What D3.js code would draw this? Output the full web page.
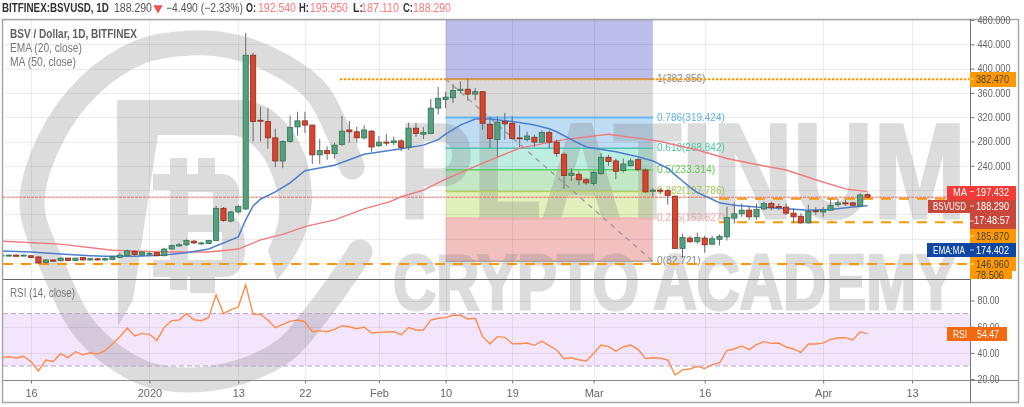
<!DOCTYPE html>
<html><head><meta charset="utf-8">
<script src="https://d3js.org/d3.v7.min.js"></script>
<style>html,body{margin:0;padding:0;background:#fff;overflow:hidden}svg{display:block}text{font-family:"Liberation Sans",Arial,sans-serif}</style>
</head><body><svg id="c" width="1024" height="407"></svg>
<script>
const firstDay = "2019-12-12";
const opens = [92,92,93,92,
92,90,81,85,84,88,84,89,85,87,
85,86,89,92,99,93,95,97,92,103,
108,110,116,112,112,117,170,149,164,169,
422,315,313,286,248,280,304,314,307,258,
265,260,275,299,296,286,297,273,279,278,
281,271,302,292,293,335,349,352,364,366,
358,362,308,283,313,310,286,283,287,279,
295,279,259,224,226,217,211,227,254,248,
232,240,250,233,198,200,199,190,104,121,
115,121,111,119,123,154,161,167,156,169,
178,173,172,162,157,146,166,164,167,176,
179,179,174,192.54];
const highs = [94,94,94,94,
93,91,86,86,89,89,89,90,88,88,
89,91,97,102,101,99,98,98,105,110,
113,119,118,115,118,174,172,166,176,459,
426,337,335,301,282,323,329,329,308,284,
272,278,322,314,304,307,299,289,292,288,
284,311,311,304,350,370,362,375,379,382.5,
368,363,321,321,327,322,307,296,291,298,
298,283,262,236,231,219,231,261,258,252,
252,252,253,236,203,203,201,191,128,125,
130,125,125,127,173,180,178,174,178,181,
181,178,178,170,162,176,172,172,186,186,
184,181,195,195.95];
const lows = [91,91,91,91,
88,79,79,82,83,83,83,84,84,84,
83,85,88,91,92,92,93,91,91,102,
107,108,111,110,111,116,148,147,161,167,
280,280,268,238,236,278,290,294,243,243,
250,252,273,278,278,283,263,271,273,274,
264,266,288,284,292,324,335,343,360,347,
348,299,269,255,283,283,271,280,271,277,
269,255,202,215,208,209,208,225,240,218,
229,239,231,196,189,194,176,103,88,113,
112,97,109,109,117,145,156,151,151,167,
167,167,159,146,145,145,159,156,166,173,
174,173,173,187.11];
const closes = [93,93,91,93,
89,80,85,83,88,84,88,85,87,85,
87,90,93,100,94,98,96,92,103,109,
110,117,113,113,117,170,150,164,173,422,
313,314,286,248,280,303,314,307,258,265,
260,274,297,296,286,299,271,279,278,281,
270,302,293,295,335,351,353,364,366,358,
362,310,285,312,309,285,285,289,279,295,
279,260,224,228,217,212,229,254,247,231,
243,248,234,197,200,198,191,104,122,115,
122,110,120,124,155,161,167,156,168,178,
171,172,162,156,146,165,165,167,175,179,
178,175,192,188.29];
const rsiValues = [36.4,37.1,36.1,37.4,
33.3,26.2,34.6,33.5,39.4,36.4,40.9,38.6,40.1,39.1,
41.7,46.8,52.4,59,52.9,54.9,54.2,49.6,59.5,64.6,
65.1,69.9,65.3,64.6,67.1,84.4,69.9,73,75,92,
69.4,69.4,65.1,59.2,61.8,64.1,65.1,63.8,56.2,57,
56.2,58,60.8,60,58.5,59.8,55.2,55.7,56,56.2,
53.9,59.3,57.5,57.5,65.1,66.4,66.9,68.7,68.7,65.9,
66.4,52.4,47,52.4,51.9,47,47,47.5,45.8,49,
45.5,42.2,35.6,36.3,34.8,33.8,39.6,46,45,41.4,
44.5,46,42.7,35.8,36.3,36,34.6,23.1,27,27.7,
29.7,28,31,32.3,41.7,43,45.3,42.5,46.3,48.6,
47.3,47.5,44.5,43,40.4,46.8,46.8,47.5,50.3,51.4,
51.6,49.8,56.2,54.47];
const emaDays = [0,4,8,12,14,18,20,22,25,28,32,33,34,35,37,39,41,45,49,54,57,59,60,62,64,66,69,72,74,75,77,79,80,83,86,88,90,91,92,93,94,96,97,99,102,105,109,112,115,117];
const emaValues = [100,98,95,92,91,91,92,93,97,103,123,151,174,185,197,212,232,241,259,268,274,283,292,307,317,317,313,307,301,296,283,271,269,263,255,248,236,225,215,205,196,185,179,175,172,170,167,168,172,174.402];
const maDays = [0,8,15,22,28,32,35,38,41,45,49,52.5,54,57,60,64,70,76,82,87,89,94,98,102.5,106,110,114,117];
const maValues = [116,111,101,98,98,103,118,127,140,151,169,181,189,200,218,239,269,283,292,284,280,266,252,241,233,217,202,197.432];
const priceTicks = [480,440,400,360,320,280,240,200,160,120,80];
const priceLabels = [480,440,400,360,320,280,240];
const rsiTicks = [80,60,40,20];
const dateTicks = ["2019-12-16","2020-01-01","2020-01-13","2020-01-22","2020-02-01","2020-02-10","2020-02-19","2020-03-01","2020-03-16","2020-04-01","2020-04-13"];
const dateLabels = ["16","2020","13","22","Feb","10","19","Mar","16","Apr","13"];
const fibRatios = ["1","0.786","0.618","0.5","0.382","0.236","0"];
const fibPrices = [382.856,319.424,268.842,233.314,197.786,153.827,82.721];
const fibFills = ["#bdbdec","#dadada","#bedcf3","#beeee2","#c3e8c6","#e2f0bc","#f3c0c0"];
const fibLines = ["#8a8ab0","#64b5f6","#4fc3b0","#5ccf6a","#b5d35c","#f0b0b0","#b0a0a0"];
const fibText = ["#8a8a8a","#5fb0ea","#45cc9f","#5ecb4c","#a2c84c","#f0a8a8","#8a8a8a"];

const DAY = 864e5, d0 = Date.parse(firstDay);
const dates = closes.map((_,i)=>new Date(d0+i*DAY));
const svg = d3.select("#c");
const x = d3.scaleUtc().domain([new Date("2019-12-16"),new Date("2020-04-13")]).range([31,912]);
const y = d3.scaleLinear().domain([480,80]).range([20,263]);
const r = d3.scaleLinear().domain([80,20]).range([300.5,379.1]);
const L=3,R=970;
const defs=svg.append("defs");
defs.append("clipPath").attr("id","mainClip").append("rect").attr("x",L).attr("y",19).attr("width",R-L).attr("height",260);
defs.append("clipPath").attr("id","rsiClip").append("rect").attr("x",L).attr("y",280).attr("width",R-L).attr("height",100);

function squeeze(t,px,py,w){
  const n=t.node().getComputedTextLength();
  t.attr("x",0).attr("y",0).attr("transform",`translate(${px},${py}) scale(${w/n},1)`);
}
function label(g,px,py,s,o={}){
  const t=g.append("text").attr("x",px).attr("y",py).text(s)
    .attr("font-size",o.size||11).attr("font-weight",o.weight||400).attr("fill",o.fill||"#666")
    .attr("text-anchor","start");
  if(o.width) squeeze(t,px,py,o.width);
  return t;
}
const ds=d=>new Date(d);
// RSI band
const bg=svg.append("g");
bg.append("rect").attr("x",L).attr("width",R-L).attr("y",r(70)).attr("height",r(30)-r(70)).attr("fill","#f3e6fc");
// fib zones
const fx0=x(dates[60]), fx1=x(dates[88]);
const main=svg.append("g");
fibFills.forEach((c,i)=>{
  const t=i===0?19:y(fibPrices[i-1]), b=y(fibPrices[i]);
  main.append("rect").attr("x",fx0).attr("width",fx1-fx0).attr("y",t).attr("height",b-t).attr("fill",c);
});
// grid
const grid=svg.append("g").attr("stroke","#000").attr("stroke-opacity",.075).attr("stroke-width",1);
priceTicks.forEach(p=>grid.append("line").attr("x1",L).attr("x2",R).attr("y1",Math.round(y(p))+.5).attr("y2",Math.round(y(p))+.5));
rsiTicks.slice(0,3).forEach(p=>grid.append("line").attr("x1",L).attr("x2",R).attr("y1",Math.round(r(p))+.5).attr("y2",Math.round(r(p))+.5));
dateTicks.forEach(d=>grid.append("line").attr("x1",Math.round(x(ds(d)))+.5).attr("x2",Math.round(x(ds(d)))+.5).attr("y1",19).attr("y2",380));
// watermark
const wm=svg.append("g").attr("opacity",.27).attr("fill","#7e7e7e").attr("stroke","none");
const ringPts=[[352,167],[335,125],[315,90],[275,62],[235,47],[190,43],[140,52],[90,85],[50,140],[32,205],[53,267],[88,333],[144,373],[190,380],[240,372],[285,350],[318,312],[345,275],[360,252]];
wm.append("path").attr("d",d3.line().curve(d3.curveCatmullRom)(ringPts)).attr("fill","none").attr("stroke","#7e7e7e").attr("stroke-width",25).attr("stroke-linecap","round");
wm.append("path").attr("d","M117,100 L245,100 C285,105 312,150 312,195 C312,230 295,260 277,280 L268,250 C280,225 285,205 270,170 C262,150 245,135 230,135 L158,135 L133,300 L118,326 Z");
wm.append("path").attr("fill-rule","evenodd").attr("d","M170,158 H187 V174 H198 V158 H215 V174 H222 C240,174 245,200 232,215 C250,225 252,277 225,277 H215 V293 H190 V277 H187 V290 H170 V277 H153 V260 H170 V190 H153 V174 H170 Z M188,192 V215 H213 V192 Z M188,232 V260 H222 V232 Z");
const wmText=wm.append("g").attr("stroke","#7e7e7e").attr("stroke-width",3);
label(wmText,399,218,"PLATINUM",{size:136,weight:700,fill:"#7e7e7e",width:567});
label(wmText,393,309,"CRYPTO ACADEMY",{size:78,weight:700,fill:"#7e7e7e",width:563});

// fib lines, labels
const fibG=svg.append("g");
fibPrices.forEach((p,i)=>{
  fibG.append("line").attr("x1",fx0).attr("x2",fx1).attr("y1",y(p)).attr("y2",y(p)).attr("stroke",fibLines[i]).attr("stroke-width",i===1?2:1.5);
});
fibPrices.forEach((p,i)=>{
  const s=fibRatios[i]+"("+p.toFixed(3)+")";
  label(fibG,657,y(p)+3,s,{size:11,fill:fibText[i],width:s.length*4.85});
});
fibG.append("line").attr("x1",fx0).attr("y1",y(fibPrices[0])).attr("x2",fx1).attr("y2",y(fibPrices[6])).attr("stroke","#999").attr("stroke-width",1.3).attr("stroke-dasharray","5 5");

// levels
const lv=svg.append("g").attr("clip-path","url(#mainClip)").attr("fill","none");
lv.append("line").attr("x1",340).attr("x2",R).attr("y1",y(382.47)).attr("y2",y(382.47)).attr("stroke","#ff9800").attr("stroke-width",1.8).attr("stroke-dasharray","2.5 1.5");
[[719,185.87],[719,146.96],[L,78.506]].forEach(a=>lv.append("line").attr("x1",a[0]).attr("x2",R).attr("y1",y(a[1])).attr("y2",y(a[1])).attr("stroke","#ff9800").attr("stroke-width",2).attr("stroke-dasharray","10 8"));
lv.append("line").attr("x1",L).attr("x2",R).attr("y1",y(188.29)).attr("y2",y(188.29)).attr("stroke","#ef6a5e").attr("stroke-width",1).attr("stroke-dasharray","3 1");

// MA + EMA
const pl=svg.append("g").attr("clip-path","url(#mainClip)").attr("fill","none");
const priceLine=(ds_,vs)=>d3.line().x((_,i)=>x(new Date(d0+ds_[i]*DAY))).y((_,i)=>y(vs[i]))(vs);
pl.append("path").attr("d",priceLine(maDays,maValues)).attr("stroke","#f27a7a").attr("stroke-width",1.4);
pl.append("path").attr("d",priceLine(emaDays,emaValues)).attr("stroke","#4a7fd0").attr("stroke-width",1.5);

// candles
const cg=svg.append("g").attr("clip-path","url(#mainClip)");
const candle=cg.selectAll("g").data(closes).join("g");
candle.append("line").attr("x1",(_,i)=>x(dates[i])).attr("x2",(_,i)=>x(dates[i]))
  .attr("y1",(_,i)=>y(highs[i])).attr("y2",(_,i)=>y(lows[i])).attr("stroke","#6b6b6b").attr("stroke-width",1);
candle.append("rect").attr("x",(_,i)=>x(dates[i])-2.6).attr("width",5.2)
  .attr("y",(c,i)=>y(Math.max(c,opens[i])))
  .attr("height",(c,i)=>Math.max(1,Math.abs(y(c)-y(opens[i]))))
  .attr("fill",(c,i)=>c>=opens[i]?"#559f7e":"#d8452f")
  .attr("stroke",(c,i)=>c>=opens[i]?"#2f7455":"#8f2d1e").attr("stroke-width",.8);

// RSI
const rg=svg.append("g");
[70,30].forEach(v=>rg.append("line").attr("x1",L).attr("x2",R).attr("y1",r(v)).attr("y2",r(v)).attr("stroke","#b9a3c9").attr("stroke-width",1).attr("stroke-dasharray","5 3"));
rg.append("path").attr("clip-path","url(#rsiClip)").attr("fill","none").attr("stroke","#ff8a4a").attr("stroke-width",1.4)
  .attr("d",d3.line().x((_,i)=>x(dates[i])).y(v=>r(v))(rsiValues));

// frame
const fr=svg.append("g").attr("fill","none");
fr.append("rect").attr("x",2.5).attr("y",19.5).attr("width",1016).attr("height",383).attr("stroke","#a6a6a6").attr("stroke-width",1.5);
fr.append("line").attr("x1",3).attr("x2",970).attr("y1",279.5).attr("y2",279.5).attr("stroke","#666").attr("stroke-width",1.2);
fr.append("line").attr("x1",3).attr("x2",1018).attr("y1",380.5).attr("y2",380.5).attr("stroke","#888").attr("stroke-width",1);
fr.append("line").attr("x1",970.5).attr("x2",970.5).attr("y1",19).attr("y2",403).attr("stroke","#777").attr("stroke-width",1);

// axes
function styleAxis(g){g.select(".domain").remove();g.selectAll("line").attr("stroke","#777");g.selectAll("text").attr("fill","#666").attr("font-size",10.5).attr("font-family",'"Liberation Sans",Arial,sans-serif');}
const narrow=(g,w)=>g.selectAll("text").each(function(){const t=d3.select(this);const n=this.getComputedTextLength();t.attr("transform",`translate(${+t.attr("x")},0) scale(${w/n},1)`).attr("x",0);});
const ay=svg.append("g").attr("transform","translate(970.5,0)").call(d3.axisRight(y).tickValues(priceLabels).tickSize(4).tickPadding(3).tickFormat(d3.format(".3f"))).call(styleAxis);
narrow(ay,33);
const ar=svg.append("g").attr("transform","translate(970.5,0)").call(d3.axisRight(r).tickValues(rsiTicks).tickSize(4).tickPadding(3).tickFormat(d3.format(".2f"))).call(styleAxis);
narrow(ar,22);
const ax=svg.append("g").attr("transform","translate(0,380.5)").call(d3.axisBottom(x).tickValues(dateTicks.map(ds)).tickSize(3).tickPadding(6).tickFormat((d,i)=>dateLabels[i])).call(styleAxis);
ax.selectAll("text").attr("font-size",11);

// price tags
function tag(x0,x1,y0,y1,fill){svg.append("rect").attr("x",x0).attr("y",y0).attr("width",x1-x0).attr("height",y1-y0).attr("fill",fill);}
const tagLabel=(px,py,s,f,w)=>label(svg,px,py,s,{size:10.5,fill:f,width:w});
tag(970,1016,72,87,"#ff9800"); tagLabel(976,83,"382.470","#444",33);
tag(947,1016,186,200,"#f23b36"); tagLabel(953,196,"MA","#fff",14); tagLabel(976,196,"197.432","#fff",33);
tag(928,1016,200,213,"#c8493b"); tagLabel(933,210,"BSVUSD","#fff",33); tagLabel(976,210,"188.290","#fff",33);
tag(970,1016,213,229,"#c8493b"); tagLabel(974,224,"17:48:57","#fff",36);
tag(970,1016,229,243,"#ff9800"); tagLabel(976,240,"185.870","#444",33);
tag(927,1016,243,257,"#0d47a1"); tagLabel(933,254,"EMA:MA","#fff",32); tagLabel(976,254,"174.402","#fff",33);
tag(970,1016,257,271,"#ff9800"); tagLabel(976,268,"146.960","#444",33);
tag(970,1012,271,279,"#ff9800"); tagLabel(976,279,"78.506","#444",28);
[79,191.5,206,221,236,250,264].forEach(v=>svg.append("line").attr("x1",970).attr("x2",974).attr("y1",v).attr("y2",v).attr("stroke","#fff").attr("stroke-opacity",.7));
tag(947,1007,327,341,"#f4690f"); tagLabel(953,338,"RSI","#fff",14); tagLabel(977,338,"54.47","#fff",22);

// header + legend
const h=svg.append("g");
label(h,2,12,"BITFINEX:BSVUSD, 1D",{size:12,weight:700,fill:"#333",width:107});
label(h,114,12,"188.290",{size:12,fill:"#555",width:38});
h.append("path").attr("d",d3.symbol().type(d3.symbolTriangle).size(38)).attr("transform","translate(158,8) rotate(180)").attr("fill","#ef4f4f");
label(h,166,12,"−4.490 (−2.33%)",{size:12,fill:"#555",width:77});
[["O:",246,"192.540",258],["H:",299,"195.950",310],["L:",353,"187.110",361],["C:",403,"188.290",413]].forEach(a=>{
  label(h,a[1],12,a[0],{size:12,weight:700,fill:"#333",width:a[0].length*5});
  label(h,a[3],12,a[2],{size:12,fill:"#f77",width:38});
});
label(h,10,38,"BSV / Dollar, 1D, BITFINEX",{size:12,weight:700,fill:"#5f5f5f",width:127});
label(h,10,52,"EMA (20, close)",{size:12,fill:"#777",width:72});
label(h,10,66,"MA (50, close)",{size:12,fill:"#777",width:66});
label(h,10,297,"RSI (14, close)",{size:12,fill:"#777",width:65});
</script></body></html>
